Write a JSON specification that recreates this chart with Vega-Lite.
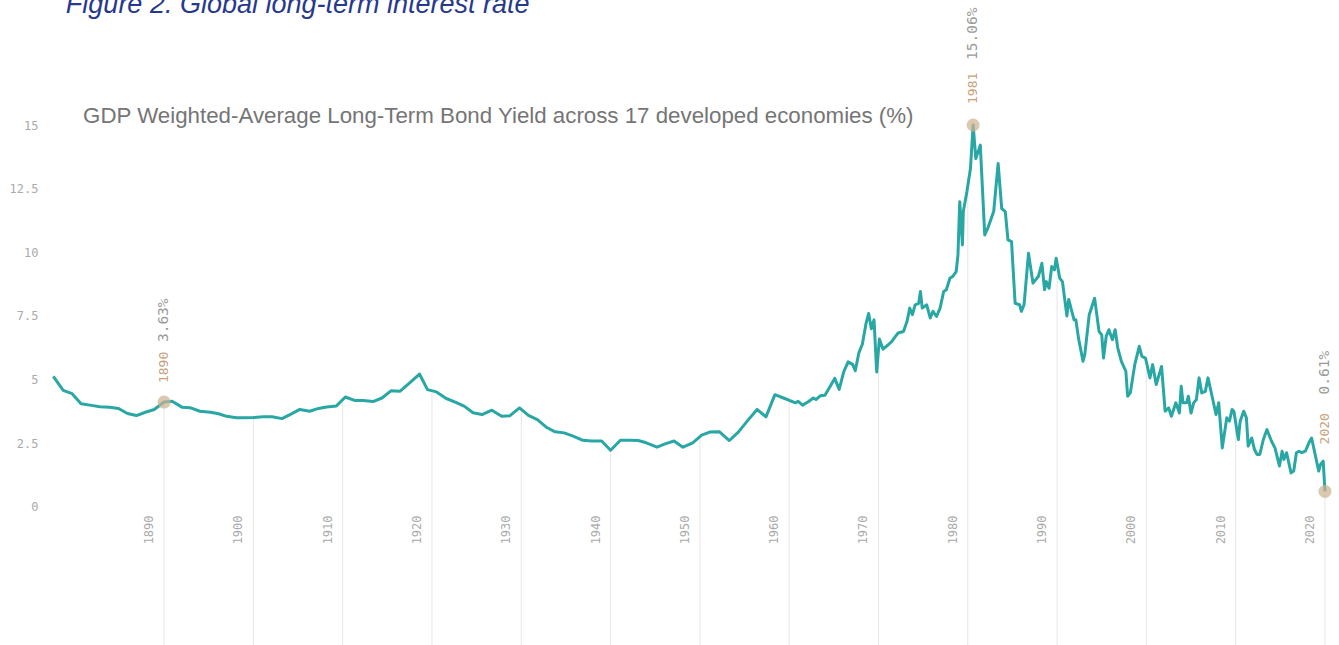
{
  "$schema": "https://vega.github.io/schema/vega-lite/v6.json",
  "width": 1291,
  "height": 644,
  "autosize": {"type": "none"},
  "padding": {"left": 48, "top": 1, "right": 0, "bottom": 0},
  "background": "white",
  "config": {"view": {"stroke": null}},
  "datasets": {
    "series": [
      {"year": 1877.6, "value": 5.13}, {"year": 1878.7, "value": 4.58}, {"year": 1879.7, "value": 4.45},
      {"year": 1880.7, "value": 4.05}, {"year": 1881.7, "value": 4.0}, {"year": 1882.8, "value": 3.94},
      {"year": 1883.9, "value": 3.92}, {"year": 1884.9, "value": 3.87}, {"year": 1885.9, "value": 3.67},
      {"year": 1886.9, "value": 3.59}, {"year": 1887.9, "value": 3.72}, {"year": 1888.9, "value": 3.83},
      {"year": 1890.0, "value": 4.12}, {"year": 1890.9, "value": 4.15}, {"year": 1892.0, "value": 3.92},
      {"year": 1892.9, "value": 3.9}, {"year": 1894.0, "value": 3.76}, {"year": 1895.2, "value": 3.72},
      {"year": 1896.1, "value": 3.66}, {"year": 1897.0, "value": 3.56}, {"year": 1898.1, "value": 3.5},
      {"year": 1899.0, "value": 3.5}, {"year": 1900.0, "value": 3.51}, {"year": 1901.1, "value": 3.54},
      {"year": 1902.1, "value": 3.54}, {"year": 1903.2, "value": 3.47}, {"year": 1904.1, "value": 3.63},
      {"year": 1905.2, "value": 3.83}, {"year": 1906.3, "value": 3.76}, {"year": 1907.3, "value": 3.87},
      {"year": 1908.2, "value": 3.93}, {"year": 1909.3, "value": 3.97}, {"year": 1910.3, "value": 4.32},
      {"year": 1911.4, "value": 4.18}, {"year": 1912.3, "value": 4.18}, {"year": 1913.4, "value": 4.14},
      {"year": 1914.4, "value": 4.28}, {"year": 1915.4, "value": 4.56}, {"year": 1916.4, "value": 4.54},
      {"year": 1917.5, "value": 4.87}, {"year": 1918.6, "value": 5.22}, {"year": 1919.5, "value": 4.61},
      {"year": 1920.5, "value": 4.52}, {"year": 1921.6, "value": 4.26}, {"year": 1922.6, "value": 4.12},
      {"year": 1923.6, "value": 3.96}, {"year": 1924.6, "value": 3.7}, {"year": 1925.6, "value": 3.63},
      {"year": 1926.7, "value": 3.8}, {"year": 1927.8, "value": 3.56}, {"year": 1928.7, "value": 3.58},
      {"year": 1929.8, "value": 3.89}, {"year": 1930.8, "value": 3.6}, {"year": 1931.8, "value": 3.43},
      {"year": 1932.9, "value": 3.11}, {"year": 1933.8, "value": 2.95}, {"year": 1934.8, "value": 2.91},
      {"year": 1935.8, "value": 2.78}, {"year": 1936.9, "value": 2.62}, {"year": 1937.9, "value": 2.59},
      {"year": 1939.0, "value": 2.59}, {"year": 1940.0, "value": 2.23}, {"year": 1941.1, "value": 2.62},
      {"year": 1942.1, "value": 2.62}, {"year": 1943.1, "value": 2.61}, {"year": 1944.0, "value": 2.52},
      {"year": 1945.2, "value": 2.35}, {"year": 1946.1, "value": 2.48}, {"year": 1947.1, "value": 2.59},
      {"year": 1948.1, "value": 2.35}, {"year": 1949.2, "value": 2.52}, {"year": 1950.2, "value": 2.82},
      {"year": 1951.1, "value": 2.94}, {"year": 1952.2, "value": 2.95}, {"year": 1953.3, "value": 2.61},
      {"year": 1954.3, "value": 2.94}, {"year": 1955.3, "value": 3.37}, {"year": 1956.4, "value": 3.83},
      {"year": 1957.4, "value": 3.54}, {"year": 1958.4, "value": 4.41}, {"year": 1959.5, "value": 4.26},
      {"year": 1960.7, "value": 4.09}, {"year": 1961.0, "value": 4.15}, {"year": 1961.5, "value": 4.0},
      {"year": 1962.1, "value": 4.12}, {"year": 1962.7, "value": 4.28}, {"year": 1963.0, "value": 4.22},
      {"year": 1963.5, "value": 4.37}, {"year": 1964.0, "value": 4.39}, {"year": 1964.6, "value": 4.74},
      {"year": 1965.1, "value": 5.05}, {"year": 1965.6, "value": 4.62}, {"year": 1966.1, "value": 5.3},
      {"year": 1966.6, "value": 5.7}, {"year": 1967.1, "value": 5.6}, {"year": 1967.4, "value": 5.35},
      {"year": 1967.8, "value": 6.05}, {"year": 1968.2, "value": 6.4}, {"year": 1968.6, "value": 7.2},
      {"year": 1968.9, "value": 7.6}, {"year": 1969.2, "value": 7.0}, {"year": 1969.5, "value": 7.35},
      {"year": 1969.8, "value": 5.3}, {"year": 1970.1, "value": 6.6}, {"year": 1970.5, "value": 6.2},
      {"year": 1971.1, "value": 6.37}, {"year": 1971.5, "value": 6.5}, {"year": 1971.9, "value": 6.7},
      {"year": 1972.2, "value": 6.83}, {"year": 1972.8, "value": 6.89}, {"year": 1973.2, "value": 7.29},
      {"year": 1973.5, "value": 7.81}, {"year": 1973.8, "value": 7.55}, {"year": 1974.1, "value": 7.94},
      {"year": 1974.5, "value": 8.0}, {"year": 1974.7, "value": 8.46}, {"year": 1974.9, "value": 7.81},
      {"year": 1975.4, "value": 7.94}, {"year": 1975.8, "value": 7.42}, {"year": 1976.1, "value": 7.68},
      {"year": 1976.5, "value": 7.48}, {"year": 1976.9, "value": 7.81}, {"year": 1977.3, "value": 8.46},
      {"year": 1977.6, "value": 8.53}, {"year": 1978.0, "value": 8.98}, {"year": 1978.3, "value": 9.05},
      {"year": 1978.7, "value": 9.24}, {"year": 1978.9, "value": 9.9}, {"year": 1979.1, "value": 11.99},
      {"year": 1979.4, "value": 10.29}, {"year": 1979.5, "value": 11.6}, {"year": 1979.9, "value": 12.38},
      {"year": 1980.3, "value": 13.29}, {"year": 1980.6, "value": 15.0}, {"year": 1980.9, "value": 13.68},
      {"year": 1981.4, "value": 14.21}, {"year": 1981.9, "value": 10.68}, {"year": 1982.3, "value": 11.0},
      {"year": 1982.9, "value": 11.6}, {"year": 1983.4, "value": 13.49}, {"year": 1983.8, "value": 11.72},
      {"year": 1984.2, "value": 11.6}, {"year": 1984.5, "value": 10.49}, {"year": 1984.9, "value": 10.42},
      {"year": 1985.3, "value": 8.0}, {"year": 1985.8, "value": 7.94}, {"year": 1986.0, "value": 7.68},
      {"year": 1986.3, "value": 7.94}, {"year": 1986.8, "value": 9.96}, {"year": 1987.3, "value": 8.79},
      {"year": 1987.9, "value": 9.05}, {"year": 1988.3, "value": 9.57}, {"year": 1988.6, "value": 8.53},
      {"year": 1988.8, "value": 8.85}, {"year": 1989.1, "value": 8.59}, {"year": 1989.4, "value": 9.44},
      {"year": 1989.7, "value": 9.31}, {"year": 1989.9, "value": 9.77}, {"year": 1990.3, "value": 8.98},
      {"year": 1990.6, "value": 8.85}, {"year": 1991.1, "value": 7.5}, {"year": 1991.3, "value": 8.15},
      {"year": 1991.9, "value": 7.35}, {"year": 1992.1, "value": 7.35}, {"year": 1992.4, "value": 6.63},
      {"year": 1992.9, "value": 5.72}, {"year": 1993.1, "value": 5.98}, {"year": 1993.6, "value": 7.55},
      {"year": 1994.2, "value": 8.2}, {"year": 1994.7, "value": 6.89}, {"year": 1995.0, "value": 6.76},
      {"year": 1995.2, "value": 5.85}, {"year": 1995.5, "value": 6.7}, {"year": 1995.8, "value": 6.96},
      {"year": 1996.2, "value": 6.57}, {"year": 1996.5, "value": 6.96}, {"year": 1996.8, "value": 6.24},
      {"year": 1997.2, "value": 5.72}, {"year": 1997.7, "value": 5.33}, {"year": 1997.9, "value": 4.35},
      {"year": 1998.2, "value": 4.48}, {"year": 1998.7, "value": 5.59}, {"year": 1999.2, "value": 6.31},
      {"year": 1999.5, "value": 5.91}, {"year": 1999.9, "value": 5.85}, {"year": 2000.4, "value": 5.07},
      {"year": 2000.7, "value": 5.59}, {"year": 2001.1, "value": 4.81}, {"year": 2001.7, "value": 5.52},
      {"year": 2002.1, "value": 3.76}, {"year": 2002.5, "value": 3.89}, {"year": 2002.8, "value": 3.56},
      {"year": 2003.3, "value": 4.09}, {"year": 2003.7, "value": 3.69}, {"year": 2003.9, "value": 4.74},
      {"year": 2004.1, "value": 4.09}, {"year": 2004.5, "value": 4.09}, {"year": 2004.7, "value": 4.35},
      {"year": 2005.0, "value": 3.69}, {"year": 2005.3, "value": 4.09}, {"year": 2005.6, "value": 4.22},
      {"year": 2005.9, "value": 5.07}, {"year": 2006.2, "value": 4.48}, {"year": 2006.6, "value": 4.54},
      {"year": 2006.9, "value": 5.07}, {"year": 2007.4, "value": 4.28}, {"year": 2007.8, "value": 3.63},
      {"year": 2008.1, "value": 4.09}, {"year": 2008.5, "value": 2.32}, {"year": 2009.0, "value": 3.5},
      {"year": 2009.3, "value": 3.37}, {"year": 2009.6, "value": 3.83}, {"year": 2009.8, "value": 3.76},
      {"year": 2010.3, "value": 2.65}, {"year": 2010.5, "value": 3.37}, {"year": 2010.9, "value": 3.76},
      {"year": 2011.2, "value": 3.5}, {"year": 2011.4, "value": 2.39}, {"year": 2011.8, "value": 2.71},
      {"year": 2012.1, "value": 2.26}, {"year": 2012.4, "value": 2.06}, {"year": 2012.7, "value": 2.06},
      {"year": 2013.1, "value": 2.65}, {"year": 2013.5, "value": 3.04}, {"year": 2014.0, "value": 2.59},
      {"year": 2014.4, "value": 2.32}, {"year": 2014.9, "value": 1.61}, {"year": 2015.2, "value": 2.19},
      {"year": 2015.4, "value": 1.87}, {"year": 2015.7, "value": 2.13}, {"year": 2016.2, "value": 1.34},
      {"year": 2016.5, "value": 1.41}, {"year": 2016.8, "value": 2.13}, {"year": 2017.1, "value": 2.19},
      {"year": 2017.4, "value": 2.13}, {"year": 2017.8, "value": 2.19}, {"year": 2018.2, "value": 2.52},
      {"year": 2018.5, "value": 2.71}, {"year": 2018.9, "value": 2.06}, {"year": 2019.3, "value": 1.41},
      {"year": 2019.5, "value": 1.67}, {"year": 2019.8, "value": 1.8}, {"year": 2020.0, "value": 0.61}
    ],
    "decades": [
      {"year": 1890, "value": 4.05}, {"year": 1900, "value": 3.46}, {"year": 1910, "value": 4.15},
      {"year": 1920, "value": 4.5}, {"year": 1930, "value": 3.78}, {"year": 1940, "value": 2.2},
      {"year": 1950, "value": 2.7}, {"year": 1960, "value": 4.12}, {"year": 1970, "value": 5.9},
      {"year": 1980, "value": 12.5}, {"year": 1990, "value": 9.4}, {"year": 2000, "value": 5.6},
      {"year": 2010, "value": 3.2}, {"year": 2020, "value": 0.6}
    ],
    "annotations": [
      {"year": 1890, "value": 4.12, "label_year": "1890", "label_value": "3.63%"},
      {"year": 1980.6, "value": 15.0, "label_year": "1981", "label_value": "15.06%"},
      {"year": 2020, "value": 0.61, "label_year": "2020", "label_value": "0.61%"}
    ],
    "texts": [
      {"ty": 1879.0, "tv": 19.4, "heading": "Figure 2. Global long-term interest rate",
       "sy": 1880.93, "sv": 15.06,
       "sub": "GDP Weighted-Average Long-Term Bond Yield across 17 developed economies (%)"}
    ]
  },
  "resolve": {"scale": {"x": "shared", "y": "shared"}},
  "layer": [
    {
      "data": {"name": "decades"},
      "mark": {"type": "rule", "color": "#e6e6e6", "strokeWidth": 1},
      "encoding": {
        "x": {"field": "year", "type": "quantitative", "axis": null,
              "scale": {"domain": [1877, 2021.57], "nice": false, "zero": false}},
        "y": {"field": "value", "type": "quantitative",
              "scale": {"domain": [-5.42, 19.87], "nice": false, "zero": false},
              "axis": {"values": [0, 2.5, 5, 7.5, 10, 12.5, 15], "labelExpr": "datum.value", "title": null,
                       "domain": false, "ticks": false, "grid": false,
                       "labelFont": "DejaVu Sans Mono", "labelFontSize": 12, "labelColor": "#aaaaaa",
                       "labelPadding": 10}},
        "y2": {"datum": -5.42}
      }
    },
    {
      "data": {"name": "decades"},
      "mark": {"type": "text", "angle": 270, "align": "center", "baseline": "middle", "dy": -15,
               "font": "DejaVu Sans Mono", "fontSize": 12, "color": "#aaaaaa"},
      "encoding": {
        "x": {"field": "year", "type": "quantitative"},
        "y": {"datum": -0.9, "type": "quantitative"},
        "text": {"field": "year", "type": "quantitative", "format": "d"}
      }
    },
    {
      "data": {"name": "series"},
      "mark": {"type": "line", "color": "#29a7a4", "strokeWidth": 3, "strokeJoin": "round"},
      "encoding": {
        "x": {"field": "year", "type": "quantitative"},
        "y": {"field": "value", "type": "quantitative"}
      }
    },
    {
      "data": {"name": "annotations"},
      "mark": {"type": "circle", "size": 170, "color": "#cdb08e", "opacity": 0.7},
      "encoding": {
        "x": {"field": "year", "type": "quantitative"},
        "y": {"field": "value", "type": "quantitative"}
      }
    },
    {
      "data": {"name": "annotations"},
      "transform": [{"filter": "datum.year < 1900"}],
      "mark": {"type": "text", "angle": 270, "align": "left", "baseline": "middle", "dx": 19,
               "font": "DejaVu Sans Mono", "fontSize": 13, "color": "#c9a27c"},
      "encoding": {
        "x": {"field": "year", "type": "quantitative"},
        "y": {"field": "value", "type": "quantitative"},
        "text": {"field": "label_year"}
      }
    },
    {
      "data": {"name": "annotations"},
      "transform": [{"filter": "datum.year < 1900"}],
      "mark": {"type": "text", "angle": 270, "align": "left", "baseline": "middle", "dx": 60,
               "font": "DejaVu Sans Mono", "fontSize": 14.5, "color": "#9a9a9a"},
      "encoding": {
        "x": {"field": "year", "type": "quantitative"},
        "y": {"field": "value", "type": "quantitative"},
        "text": {"field": "label_value"}
      }
    },
    {
      "data": {"name": "annotations"},
      "transform": [{"filter": "datum.year > 1900 && datum.year < 2020"}],
      "mark": {"type": "text", "angle": 270, "align": "left", "baseline": "middle", "dx": 21,
               "font": "DejaVu Sans Mono", "fontSize": 13, "color": "#c9a27c"},
      "encoding": {
        "x": {"field": "year", "type": "quantitative"},
        "y": {"field": "value", "type": "quantitative"},
        "text": {"field": "label_year"}
      }
    },
    {
      "data": {"name": "annotations"},
      "transform": [{"filter": "datum.year > 1900 && datum.year < 2020"}],
      "mark": {"type": "text", "angle": 270, "align": "left", "baseline": "middle", "dx": 65,
               "font": "DejaVu Sans Mono", "fontSize": 14.5, "color": "#9a9a9a"},
      "encoding": {
        "x": {"field": "year", "type": "quantitative"},
        "y": {"field": "value", "type": "quantitative"},
        "text": {"field": "label_value"}
      }
    },
    {
      "data": {"name": "annotations"},
      "transform": [{"filter": "datum.year >= 2020"}],
      "mark": {"type": "text", "angle": 270, "align": "left", "baseline": "middle", "dx": 47,
               "font": "DejaVu Sans Mono", "fontSize": 13, "color": "#c9a27c"},
      "encoding": {
        "x": {"field": "year", "type": "quantitative"},
        "y": {"field": "value", "type": "quantitative"},
        "text": {"field": "label_year"}
      }
    },
    {
      "data": {"name": "annotations"},
      "transform": [{"filter": "datum.year >= 2020"}],
      "mark": {"type": "text", "angle": 270, "align": "left", "baseline": "middle", "dx": 97,
               "font": "DejaVu Sans Mono", "fontSize": 14.5, "color": "#9a9a9a"},
      "encoding": {
        "x": {"field": "year", "type": "quantitative"},
        "y": {"field": "value", "type": "quantitative"},
        "text": {"field": "label_value"}
      }
    },
    {
      "data": {"name": "texts"},
      "mark": {"type": "text", "align": "left", "baseline": "alphabetic",
               "font": "Liberation Sans", "fontSize": 27, "fontStyle": "italic", "color": "#27398c"},
      "encoding": {
        "x": {"field": "ty", "type": "quantitative"},
        "y": {"field": "tv", "type": "quantitative"},
        "text": {"field": "heading"}
      }
    },
    {
      "data": {"name": "texts"},
      "mark": {"type": "text", "align": "left", "baseline": "alphabetic",
               "font": "Liberation Sans", "fontSize": 22.3, "color": "#757575"},
      "encoding": {
        "x": {"field": "sy", "type": "quantitative"},
        "y": {"field": "sv", "type": "quantitative"},
        "text": {"field": "sub"}
      }
    }
  ]
}
